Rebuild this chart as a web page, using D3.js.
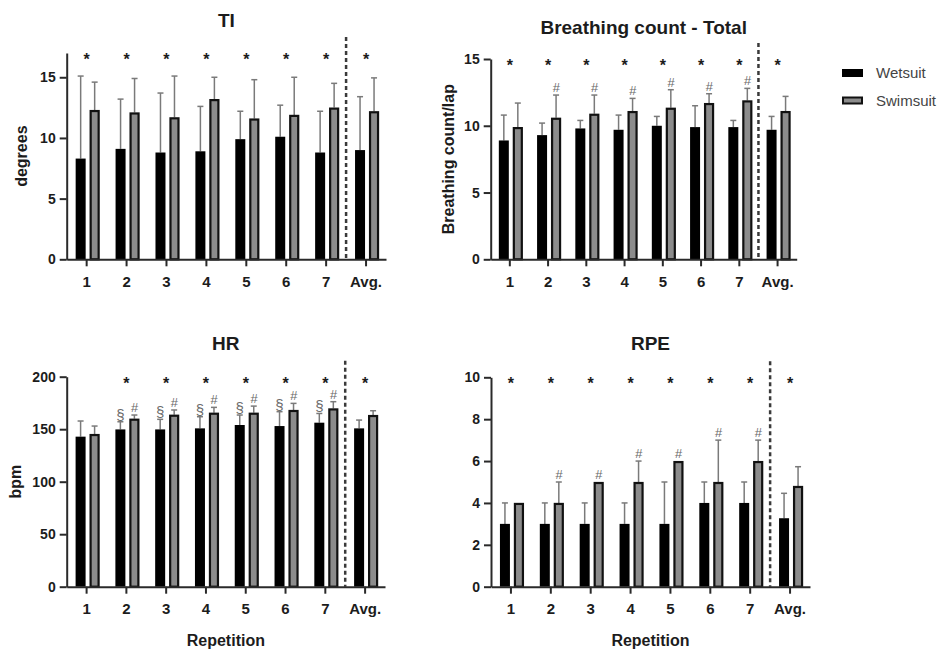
<!DOCTYPE html>
<html>
<head>
<meta charset="utf-8">
<script src="https://cdn.jsdelivr.net/npm/d3@7"></script>
<style>
  body { margin: 0; background: #fff; }
  svg { font-family: "Liberation Sans", Arial, sans-serif; }
</style>
</head>
<body>
<svg id="chart" width="942" height="649"></svg>
<script>
// categories on the x axis
const categories = ['1', '2', '3', '4', '5', '6', '7', 'Avg.'];

// TI (degrees)
const tiWet = [8.3, 9.1, 8.8, 8.9, 9.9, 10.1, 8.8, 9.0];
const tiWetSd = [6.8, 4.1, 4.9, 3.7, 2.3, 2.6, 3.4, 4.4];
const tiSwim = [12.3, 12.1, 11.7, 13.2, 11.6, 11.9, 12.5, 12.2];
const tiSwimSd = [2.3, 2.8, 3.4, 1.8, 3.2, 3.1, 2.0, 2.75];
const tiTicks = [0, 5, 10, 15];

// Breathing count - Total
const brWet = [8.9, 9.3, 9.8, 9.7, 10.0, 9.9, 9.9, 9.7];
const brWetSd = [1.9, 0.9, 0.6, 1.1, 0.7, 1.6, 0.5, 1.0];
const brSwim = [9.9, 10.6, 10.9, 11.1, 11.35, 11.7, 11.9, 11.1];
const brSwimSd = [1.8, 1.7, 1.4, 0.95, 1.35, 0.7, 0.9, 1.1];
const brTicks = [0, 5, 10, 15];

// HR (bpm)
const hrWet = [142.9, 149.8, 149.8, 150.8, 154.0, 153.0, 156.2, 150.8];
const hrWetSd = [14.9, 7.3, 9.6, 11.1, 9.5, 13.7, 8.8, 7.9];
const hrSwim = [145.4, 160.0, 163.8, 165.7, 165.7, 168.3, 169.8, 163.5];
const hrSwimSd = [7.6, 3.5, 4.5, 5.1, 6.3, 6.3, 6.4, 4.1];
const hrTicks = [0, 50, 100, 150, 200];

// RPE
const rpeWet = [3, 3, 3, 3, 3, 4, 4, 3.27];
const rpeWetSd = [1, 1, 1, 1, 2, 1, 1, 1.19];
const rpeSwim = [4, 4, 5, 5, 6, 5, 6, 4.81];
const rpeSwimSd = [0, 1, 0, 1, 0, 2, 1, 0.92];
const rpeTicks = [0, 2, 4, 6, 8, 10];

// significance marks
const starsAll = ['*', '*', '*', '*', '*', '*', '*', '*'];
const starsHr = ['', '*', '*', '*', '*', '*', '*', '*'];
const hashMarks = ['', '#', '#', '#', '#', '#', '#', ''];
const noMarks = ['', '', '', '', '', '', '', ''];
const sectionMarks = ['', '§', '§', '§', '§', '§', '§', ''];

const series = ['Wetsuit', 'Swimsuit'];

const svg = d3.select('#chart');
const axisColor = '#2a2a2a';
const textColor = '#1c1c1c';
const swimFill = '#8c8c8c';
const errColor = '#7a7a7a';

const panels = [
    { title: 'TI', yLabel: 'degrees', xLabel: null, left: 66.7, right: 386, top: 53, bottom: 259.3, max: 17,
      ticks: tiTicks, wet: tiWet, wetSd: tiWetSd, swim: tiSwim, swimSd: tiSwimSd,
      stars: starsAll, wetMarks: noMarks, swimMarks: noMarks, titleY: 26.5, yLabelX: 22 },
    { title: 'Breathing count - Total', yLabel: 'Breathing count/lap', xLabel: null, left: 490.7, right: 796.7, top: 59, bottom: 259.3, max: 15,
      ticks: brTicks, wet: brWet, wetSd: brWetSd, swim: brSwim, swimSd: brSwimSd,
      stars: starsAll, wetMarks: noMarks, swimMarks: hashMarks, titleY: 33.5, yLabelX: 449 },
    { title: 'HR', yLabel: 'bpm', xLabel: 'Repetition', left: 66.7, right: 385, top: 376.7, bottom: 586.7, max: 200,
      ticks: hrTicks, wet: hrWet, wetSd: hrWetSd, swim: hrSwim, swimSd: hrSwimSd,
      stars: starsHr, wetMarks: sectionMarks, swimMarks: hashMarks, titleY: 349.5, yLabelX: 16 },
    { title: 'RPE', yLabel: null, xLabel: 'Repetition', left: 491, right: 810, top: 377.3, bottom: 586.7, max: 10,
      ticks: rpeTicks, wet: rpeWet, wetSd: rpeWetSd, swim: rpeSwim, swimSd: rpeSwimSd,
      stars: starsAll, wetMarks: noMarks, swimMarks: hashMarks, titleY: 349.5, yLabelX: null },
];

function styleAxis(g, size) {
    g.select('.domain').attr('stroke', axisColor).attr('stroke-width', 2);
    g.selectAll('.tick line').attr('stroke', axisColor).attr('stroke-width', 2);
    g.selectAll('.tick text')
        .attr('fill', textColor)
        .style('font-size', size + 'px')
        .style('font-weight', 'bold');
}

function drawPanel(p) {
    const g = svg.append('g');
    const x = d3.scaleBand().domain(categories).range([p.left, p.right]);
    const y = d3.scaleLinear().domain([0, p.max]).range([p.bottom, p.top]);
    const cx = (c) => x(c) + x.bandwidth() / 2;

    const rows = categories.map((c, i) => ({
        cat: c,
        wet: p.wet[i], wetSd: p.wetSd[i],
        swim: p.swim[i], swimSd: p.swimSd[i],
        star: p.stars[i], wetMark: p.wetMarks[i], swimMark: p.swimMarks[i],
    }));

    // error bars (upper only)
    const errs = [];
    rows.forEach((d) => {
        if (d.wetSd > 0) errs.push({ x: cx(d.cat) - 6, v: d.wet, top: d.wet + d.wetSd });
        if (d.swimSd > 0) errs.push({ x: cx(d.cat) + 8, v: d.swim, top: d.swim + d.swimSd });
    });
    const eg = g.append('g').attr('stroke', errColor).attr('stroke-width', 1.5);
    eg.selectAll('line.stem').data(errs).enter().append('line')
        .attr('class', 'stem')
        .attr('x1', d => d.x).attr('x2', d => d.x)
        .attr('y1', d => y(d.v)).attr('y2', d => y(d.top));
    eg.selectAll('line.cap').data(errs).enter().append('line')
        .attr('class', 'cap')
        .attr('x1', d => d.x - 3).attr('x2', d => d.x + 3)
        .attr('y1', d => y(d.top)).attr('y2', d => y(d.top));

    // wetsuit bars
    g.selectAll('rect.wet').data(rows).enter().append('rect')
        .attr('class', 'wet')
        .attr('x', d => cx(d.cat) - 11)
        .attr('width', 10)
        .attr('y', d => y(d.wet))
        .attr('height', d => y(0) - y(d.wet))
        .attr('fill', '#000');

    // swimsuit bars
    g.selectAll('rect.swim').data(rows).enter().append('rect')
        .attr('class', 'swim')
        .attr('x', d => cx(d.cat) + 4)
        .attr('width', 8)
        .attr('y', d => y(d.swim) + 1)
        .attr('height', d => y(0) - y(d.swim) - 1)
        .attr('fill', swimFill)
        .attr('stroke', '#111')
        .attr('stroke-width', 2.2);

    // dashed separator before Avg.
    const sepX = x('Avg.');
    g.append('line')
        .attr('x1', sepX).attr('x2', sepX)
        .attr('y1', p.top - 16).attr('y2', p.bottom)
        .attr('stroke', '#3a3a3a')
        .attr('stroke-width', 2.5)
        .attr('stroke-dasharray', '4,3');

    // axes
    const yAxis = g.append('g')
        .attr('transform', `translate(${p.left},0)`)
        .call(d3.axisLeft(y).tickValues(p.ticks).tickSize(7).tickSizeOuter(0).tickPadding(4));
    styleAxis(yAxis, 14);

    const xAxis = g.append('g')
        .attr('transform', `translate(0,${p.bottom})`)
        .call(d3.axisBottom(x).tickSize(7).tickSizeOuter(0).tickPadding(10));
    styleAxis(xAxis, 15);

    // stars
    g.selectAll('text.star').data(rows.filter(d => d.star)).enter().append('text')
        .attr('class', 'star')
        .attr('x', d => cx(d.cat))
        .attr('y', p.top + 12)
        .attr('text-anchor', 'middle')
        .attr('fill', textColor)
        .style('font-size', '16px')
        .style('font-weight', 'bold')
        .text(d => d.star);

    // § above wetsuit, # above swimsuit
    g.selectAll('text.wmark').data(rows.filter(d => d.wetMark)).enter().append('text')
        .attr('class', 'wmark')
        .attr('x', d => cx(d.cat) - 6)
        .attr('y', d => y(d.wet + d.wetSd) - 2)
        .attr('text-anchor', 'middle')
        .attr('fill', '#6a6a6a')
        .style('font-size', '15px')
        .text(d => d.wetMark);
    g.selectAll('text.smark').data(rows.filter(d => d.swimMark)).enter().append('text')
        .attr('class', 'smark')
        .attr('x', d => cx(d.cat) + 8)
        .attr('y', d => y(d.swim + d.swimSd) - 3)
        .attr('text-anchor', 'middle')
        .attr('fill', '#6a6a6a')
        .style('font-size', '13px')
        .style('font-style', 'italic')
        .text(d => d.swimMark);

    // title
    g.append('text')
        .attr('x', (p.left + p.right) / 2)
        .attr('y', p.titleY)
        .attr('text-anchor', 'middle')
        .attr('fill', textColor)
        .style('font-size', '19px')
        .style('font-weight', 'bold')
        .text(p.title);

    if (p.yLabel) {
        g.append('text')
            .attr('transform', `translate(${p.yLabelX + 5},${(p.top + p.bottom) / 2}) rotate(-90)`)
            .attr('text-anchor', 'middle')
            .attr('fill', textColor)
            .style('font-size', '16px')
            .style('font-weight', 'bold')
            .text(p.yLabel);
    }
    if (p.xLabel) {
        g.append('text')
            .attr('x', (p.left + p.right) / 2)
            .attr('y', 646)
            .attr('text-anchor', 'middle')
            .attr('fill', textColor)
            .style('font-size', '16px')
            .style('font-weight', 'bold')
            .text(p.xLabel);
    }
}

panels.forEach(drawPanel);

// legend
const legend = svg.append('g').attr('transform', 'translate(842,69)');
series.forEach((s, i) => {
    const row = legend.append('g').attr('transform', `translate(0,${i * 27.5})`);
    row.append('rect')
        .attr('x', i ? 1 : 0).attr('y', i ? 1 : 0)
        .attr('width', i ? 19 : 21).attr('height', i ? 6 : 8)
        .attr('fill', i ? swimFill : '#000')
        .attr('stroke', i ? '#111' : 'none')
        .attr('stroke-width', 2);
    row.append('text')
        .attr('x', 34).attr('y', 9)
        .attr('fill', '#444')
        .style('font-size', '15px')
        .text(s);
});
</script>
</body>
</html>
